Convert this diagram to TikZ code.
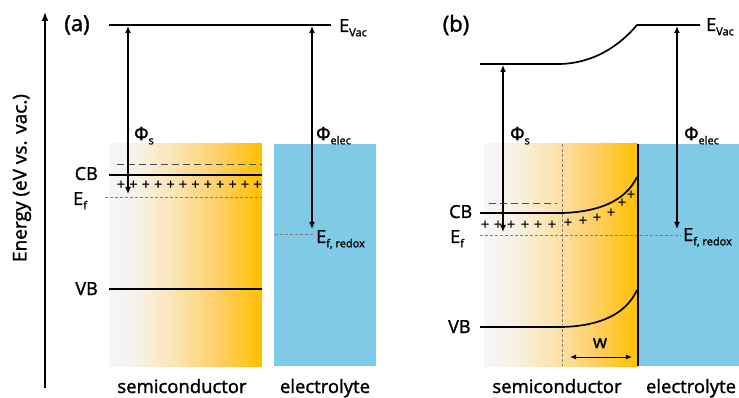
\documentclass[tikz,border=0pt]{standalone}
\usepackage{fontspec}
\setmainfont{Open Sans}[UprightFeatures={FakeBold=1.5}]
\usetikzlibrary{arrows.meta,positioning}
\definecolor{scpale}{HTML}{F5F6FA}
\definecolor{scwarm}{HTML}{F8F1E4}
\definecolor{sccream}{HTML}{FCE4B0}
\definecolor{scgold}{HTML}{FDD06A}
\definecolor{scamber}{HTML}{FFC000}
\definecolor{elecblue}{HTML}{7FCAE6}
\definecolor{guide}{HTML}{7F7F7F}
% the path is mapped onto 25bp..75bp of the shading
\pgfdeclarehorizontalshading{scgrad}{100bp}{color(0bp)=(scpale); color(25bp)=(scpale); color(35bp)=(scwarm); color(47bp)=(sccream); color(60bp)=(scgold); color(75bp)=(scamber); color(100bp)=(scamber)}
\newcommand{\lvsub}[1]{\raisebox{-.45ex}{\fontsize{11}{11}\selectfont #1}}
\tikzset{band/.style={draw=black,line width=1.7pt},fermi/.style={draw=guide,dash pattern=on 3pt off 2pt,line width=.9pt},emptylevel/.style={draw=black!70,dash pattern=on 7pt off 4pt,line width=1pt},wfarrow/.style={draw=black,line width=1.3pt,{Latex[length=7pt,width=6pt]}-{Latex[length=7pt,width=6pt]}},lbl/.style={font=\fontsize{18}{20}\selectfont,inner sep=0pt},bottomlbl/.style={font=\fontsize{18.5}{20}\selectfont,inner sep=0pt},pluscharge/.style={font=\fontsize{14}{14}\selectfont,inner sep=0pt}}

\begin{document}
\begin{tikzpicture}[x=1pt,y=-1pt]
\useasboundingbox (0,0) rectangle (739,398);
% regions
\shade[shading=scgrad] (109,144) rectangle (262,366);
\fill[elecblue] (274,144) rectangle (376,366);
\shade[shading=scgrad] (484,144) rectangle (638,366);
\fill[elecblue] (638,144) rectangle (739,366);
% energy axis
\coordinate (axbot) at (45,388);
\coordinate (axtop) at (45,12);
\draw[line width=1.7pt,-{Latex[length=9pt,width=7pt]}] (axbot) -- (axtop);
\node[rotate=90,font=\fontsize{19}{21}\selectfont] (axlbl) at (22,178) {Energy (eV vs. vac.)};

% panel (a)
\node[font=\fontsize{22}{24}\selectfont] (tagA) at (77,25) {(a)};
\coordinate (vacAl) at (109,25); \coordinate (vacAr) at (331,25);
\coordinate (cbAl) at (109,175); \coordinate (cbAr) at (262,175);
\coordinate (vbAl) at (109,289); \coordinate (vbAr) at (262,289);
\coordinate (emAl) at (117,165); \coordinate (emAr) at (262,165);
\coordinate (efAl) at (105,197); \coordinate (efAr) at (262,197);
\coordinate (redAl) at (275,234); \coordinate (redAr) at (313,234);
\draw[band] (vacAl) -- (vacAr);
\draw[band] (cbAl) -- (cbAr);
\draw[band] (vbAl) -- (vbAr);
\draw[emptylevel] (emAl) -- (emAr);
\draw[fermi] (efAl) -- (efAr);
\draw[fermi] (redAl) -- (redAr);
\foreach \px in {0,...,11}
  \node[pluscharge] (plusA\px) at (121+12.4*\px,185) {+};
\coordinate (phisAt) at (128,26); \coordinate (phisAb) at (128,194);
\coordinate (phieAt) at (312,26); \coordinate (phieAb) at (312,229);
\draw[wfarrow] (phisAt) -- (phisAb);
\draw[wfarrow] (phieAt) -- (phieAb);
\node[lbl,anchor=base west] (vacAlbl) at (339,32) {E\lvsub{Vac}};
\node[lbl,anchor=base west] (phisAlbl) at (134,140) {Φ\lvsub{s}};
\node[lbl,anchor=base west] (phieAlbl) at (316,140) {Φ\lvsub{elec}};
\node[lbl,anchor=base east] (cbAlbl) at (98,180) {CB};
\node[lbl,anchor=base west] (efAlbl) at (73,205) {E\lvsub{f}};
\node[lbl,anchor=base east] (vbAlbl) at (98,295) {VB};
\node[lbl,anchor=base west] (redAlbl) at (316,243) {E\lvsub{f, redox}};
\node[bottomlbl,anchor=base] (scAlbl) at (182,393) {semiconductor};
\node[bottomlbl,anchor=base] (elAlbl) at (325,393) {electrolyte};

% panel (b)
\node[font=\fontsize{22}{24}\selectfont] (tagB) at (456,25) {(b)};
\coordinate (vacBl) at (480,64); \coordinate (vacBm) at (560,64);
\coordinate (vacBk) at (637,25); \coordinate (vacBr) at (700,25);
\coordinate (cbBl) at (480,213); \coordinate (cbBm) at (562,213); \coordinate (cbBr) at (637,177);
\coordinate (vbBl) at (480,327); \coordinate (vbBm) at (562,327); \coordinate (vbBr) at (637,290);
\coordinate (emBl) at (489,204); \coordinate (emBr) at (557,204);
\coordinate (efBl) at (480,235); \coordinate (efBr) at (681,235);
\coordinate (wdT) at (562,144); \coordinate (wdB) at (562,366);
\coordinate (ifT) at (638,144); \coordinate (ifB) at (638,366);
\draw[band] (vacBl) -- (vacBm) .. controls (595,63) and (620,45) .. (vacBk) -- (vacBr);
\draw[band] (cbBl) -- (cbBm) .. controls (597,212) and (625,202) .. (cbBr);
\draw[band] (vbBl) -- (vbBm) .. controls (597,326) and (625,316) .. (vbBr);
\draw[emptylevel] (emBl) -- (emBr);
\draw[fermi] (efBl) -- (efBr);
\draw[fermi] (wdT) -- (wdB);
\draw[line width=2pt] (ifT) -- (ifB);
\foreach \px/\py [count=\i] in {485/225,498/225,511/225,525/225,538/225,552/225,568/223,583/221,597/218,611/213,622/203,631/195}
  \node[pluscharge] (plusB\i) at (\px,\py) {+};
\coordinate (phisBt) at (503,65); \coordinate (phisBb) at (503,232);
\coordinate (phieBt) at (677,26); \coordinate (phieBb) at (677,229);
\draw[wfarrow] (phisBt) -- (phisBb);
\draw[wfarrow] (phieBt) -- (phieBb);
\coordinate (wL) at (570,357); \coordinate (wR) at (632,357);
\draw[line width=1pt,{Latex[length=6pt,width=5pt]}-{Latex[length=6pt,width=5pt]}] (wL) -- (wR);
\node[lbl,anchor=base] (wlbl) at (600,348) {w};
\node[lbl,anchor=base west] (vacBlbl) at (706,31) {E\lvsub{Vac}};
\node[lbl,anchor=base west] (phisBlbl) at (510,140) {Φ\lvsub{s}};
\node[lbl,anchor=base west] (phieBlbl) at (684,140) {Φ\lvsub{elec}};
\node[lbl,anchor=base west] (cbBlbl) at (449,218) {CB};
\node[lbl,anchor=base west] (efBlbl) at (450,243) {E\lvsub{f}};
\node[lbl,anchor=base west] (vbBlbl) at (448,333) {VB};
\node[lbl,anchor=base west] (redBlbl) at (683,241) {E\lvsub{f, redox}};
\node[bottomlbl,anchor=base] (scBlbl) at (557,393) {semiconductor};
\node[bottomlbl,anchor=base] (elBlbl) at (691,393) {electrolyte};
\end{tikzpicture}
\end{document}
